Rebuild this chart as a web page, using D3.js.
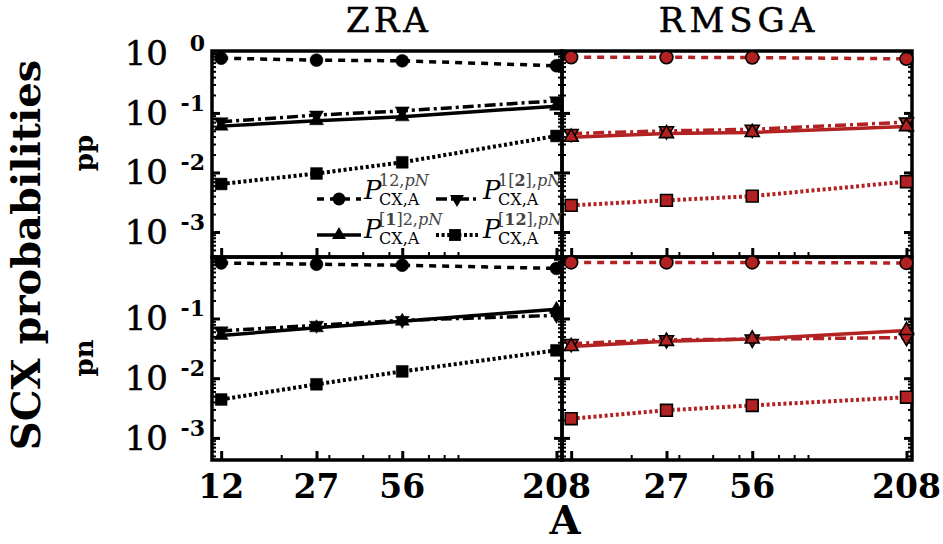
<!DOCTYPE html>
<html><head><meta charset="utf-8">
<script src="https://cdn.jsdelivr.net/npm/d3@7"></script>
<style>body{margin:0;background:#fff} svg{display:block}</style>
</head><body><svg id="c" width="943" height="544"></svg>
<script>
// ---------- data ----------
const massNumbers = [12, 27, 56, 208];
const xLabelsLeft = ["12", "27", "56", "208"];
const xLabelsRight = ["", "27", "56", "208"];
const xMinorTicks = [20, 30, 40, 50, 70, 80, 90];
const yDecadeExps = [0, -1, -2, -3];
const panelTitles = ["ZRA", "RMSGA"];
const rowLabels = ["pp", "pn"];

// ZRA, pp
const zraPP_P12   = [0.83, 0.77, 0.75, 0.62];
const zraPP_P1b2  = [0.071, 0.092, 0.108, 0.16];
const zraPP_Pb12  = [0.060, 0.074, 0.086, 0.13];
const zraPP_Pb12b = [0.0064, 0.0096, 0.0148, 0.041];
// RMSGA, pp
const rmsPP_P12   = [0.86, 0.86, 0.85, 0.81];
const rmsPP_P1b2  = [0.045, 0.050, 0.053, 0.070];
const rmsPP_Pb12  = [0.039, 0.045, 0.047, 0.059];
const rmsPP_Pb12b = [0.0028, 0.0034, 0.0040, 0.0070];
// ZRA, pn
const zraPN_P12   = [0.85, 0.81, 0.78, 0.69];
const zraPN_P1b2  = [0.062, 0.077, 0.093, 0.113];
const zraPN_Pb12  = [0.052, 0.070, 0.090, 0.143];
const zraPN_Pb12b = [0.0044, 0.0079, 0.0130, 0.0293];
// RMSGA, pn
const rmsPN_P12   = [0.87, 0.87, 0.87, 0.85];
const rmsPN_P1b2  = [0.038, 0.044, 0.045, 0.048];
const rmsPN_Pb12  = [0.034, 0.0415, 0.0454, 0.063];
const rmsPN_Pb12b = [0.0021, 0.0029, 0.0035, 0.0048];

// legend label parts (superscripts)
const legendSups = [
  [["12,","n"],["pN","i"]],
  [["1[","n"],["2","b"],["],","n"],["pN","i"]],
  [["[","n"],["1","b"],["]2,","n"],["pN","i"]],
  [["[","n"],["12","b"],["],","n"],["pN","i"]]
];

// ---------- styles ----------
const RED = "#b22222";
const seriesStyles = [
  {sym: d3.symbolCircle,   rot: 0,   size: 130, dash: "7,6",        width: 3.5},
  {sym: d3.symbolTriangle, rot: 180, size: 85,  dash: "11,4,3,4",   width: 3.5},
  {sym: d3.symbolTriangle, rot: 0,   size: 85,  dash: null,         width: 3.5},
  {sym: d3.symbolSquare,   rot: 0,   size: 140, dash: "3,2.6",      width: 4}
];

const panels = [
  {col:0,row:0,color:"#000",series:[zraPP_P12,zraPP_P1b2,zraPP_Pb12,zraPP_Pb12b]},
  {col:1,row:0,color:RED,   series:[rmsPP_P12,rmsPP_P1b2,rmsPP_Pb12,rmsPP_Pb12b]},
  {col:0,row:1,color:"#000",series:[zraPN_P12,zraPN_P1b2,zraPN_Pb12,zraPN_Pb12b]},
  {col:1,row:1,color:RED,   series:[rmsPN_P12,rmsPN_P1b2,rmsPN_Pb12,rmsPN_Pb12b]}
];

// ---------- layout ----------
const colX = [212, 562], panelW = 350;
const rowY = [[51, 257], [257, 460]];
const yDomains = [[Math.pow(10,-3.42), Math.pow(10,0.04)], [Math.pow(10,-3.37), Math.pow(10,0.03)]];
const xDomain = [11.1, 218];
const SERIF = "'DejaVu Serif', 'Liberation Serif', serif";

const svg = d3.select("#c");

const majorsY = yDecadeExps.map(e => Math.pow(10, e));
const minorsY = [];
for (let e = -4; e <= 0; e++) for (let k = 2; k <= 9; k++) minorsY.push(k * Math.pow(10, e));

function styleAxis(g, w) {
  g.select(".domain").remove();
  g.selectAll(".tick line").attr("stroke", "#000").attr("stroke-width", w);
}

const scales = [];
panels.forEach(p => {
  const x0 = colX[p.col], x1 = x0 + panelW;
  const [yt, yb] = rowY[p.row];
  const yDom = yDomains[p.row];
  const x = d3.scaleLog().domain(xDomain).range([x0, x1]);
  const y = d3.scaleLog().domain(yDom).range([yb, yt]);
  scales.push({x, y});
  const g = svg.append("g");
  const minY = minorsY.filter(v => v >= yDom[0] && v <= yDom[1]);

  // y ticks (inward) left & right
  g.append("g").attr("transform", `translate(${x0},0)`)
    .call(d3.axisRight(y).tickValues(majorsY).tickSize(8).tickFormat(""))
    .call(a => styleAxis(a, 3));
  g.append("g").attr("transform", `translate(${x0},0)`)
    .call(d3.axisRight(y).tickValues(minY).tickSize(4).tickFormat(""))
    .call(a => styleAxis(a, 2));
  g.append("g").attr("transform", `translate(${x1},0)`)
    .call(d3.axisLeft(y).tickValues(majorsY).tickSize(8).tickFormat(""))
    .call(a => styleAxis(a, 3));
  g.append("g").attr("transform", `translate(${x1},0)`)
    .call(d3.axisLeft(y).tickValues(minY).tickSize(4).tickFormat(""))
    .call(a => styleAxis(a, 2));
  // x ticks (inward, bottom)
  g.append("g").attr("transform", `translate(0,${yb})`)
    .call(d3.axisTop(x).tickValues(massNumbers).tickSize(9).tickFormat(""))
    .call(a => styleAxis(a, 3));
  g.append("g").attr("transform", `translate(0,${yb})`)
    .call(d3.axisTop(x).tickValues(xMinorTicks).tickSize(5).tickFormat(""))
    .call(a => styleAxis(a, 2));

  // frame
  g.append("rect").attr("x", x0).attr("y", yt).attr("width", panelW).attr("height", yb - yt)
    .attr("fill", "none").attr("stroke", "#000").attr("stroke-width", 3.5);

  // series
  p.series.forEach((vals, si) => {
    const st = seriesStyles[si];
    const pts = massNumbers.map((A, i) => ({A, v: vals[i]}));
    g.append("path").datum(pts)
      .attr("d", d3.line().x(d => x(d.A)).y(d => y(d.v)))
      .attr("fill", "none").attr("stroke", p.color).attr("stroke-width", st.width)
      .attr("stroke-dasharray", st.dash);
  });
  p.series.forEach((vals, si) => {
    const st = seriesStyles[si];
    const pts = massNumbers.map((A, i) => ({A, v: vals[i]}));
    g.selectAll(null).data(pts).join("path")
      .attr("d", d3.symbol().type(st.sym).size(st.size))
      .attr("transform", d => `translate(${x(d.A)},${y(d.v)}) rotate(${st.rot})`)
      .attr("fill", p.color).attr("stroke", "#000").attr("stroke-width", p.color === "#000" ? 0.5 : 1.6);
  });
});

// ---------- y tick labels ----------
[0, 1].forEach(row => {
  const y = scales[row * 2].y;
  yDecadeExps.forEach(e => {
    if (row === 1 && e === 0) return;
    const yy = y(Math.pow(10, e));
    svg.append("text").attr("x", 168).attr("y", yy + 12).attr("text-anchor", "end")
      .attr("font-family", SERIF).attr("font-size", 34)
      .attr("stroke", "#000").attr("stroke-width", 0.5).text("10");
    svg.append("text").attr("x", 205).attr("y", yy - 2).attr("text-anchor", "end")
      .attr("font-family", SERIF).attr("font-weight", "bold").attr("font-size", 22)
      .text(String(e));
  });
});

// ---------- x tick labels ----------
[xLabelsLeft, xLabelsRight].forEach((labs, col) => {
  const x = scales[col].x;
  labs.forEach((t, i) => {
    if (!t) return;
    svg.append("text").attr("x", x(massNumbers[i])).attr("y", 498).attr("text-anchor", "middle")
      .attr("font-family", SERIF).attr("font-weight", "bold").attr("font-size", 33).text(t);
  });
});
svg.append("text").attr("x", 565).attr("y", 534).attr("text-anchor", "middle")
  .attr("font-family", SERIF).attr("font-weight", "bold").attr("font-size", 40).text("A");

// ---------- titles ----------
svg.append("text").attr("x", 389).attr("y", 32).attr("text-anchor", "middle")
  .attr("font-family", SERIF).attr("font-size", 34).attr("letter-spacing", 4)
  .attr("stroke", "#000").attr("stroke-width", 0.5).text(panelTitles[0]);
svg.append("text").attr("x", 739).attr("y", 32).attr("text-anchor", "middle")
  .attr("font-family", SERIF).attr("font-size", 34).attr("letter-spacing", 5)
  .attr("stroke", "#000").attr("stroke-width", 0.5).text(panelTitles[1]);

svg.append("text").attr("transform", "translate(40,255) rotate(-90)").attr("text-anchor", "middle")
  .attr("font-family", SERIF).attr("font-weight", "bold").attr("font-size", 40).text("SCX probabilities");
[153, 358].forEach((cy, i) => {
  svg.append("text").attr("transform", `translate(93,${cy}) rotate(-90)`).attr("text-anchor", "middle")
    .attr("font-family", SERIF).attr("font-weight", "bold").attr("font-size", 26).text(rowLabels[i]);
});

// ---------- legend ----------
const legendPos = [
  {lx0: 317, lx1: 361, mx: 339, tx: 364, by: 199, ly: 199},
  {lx0: 436, lx1: 478, mx: 457, tx: 483, by: 199, ly: 199},
  {lx0: 317, lx1: 361, mx: 339, tx: 364, by: 238, ly: 235},
  {lx0: 436, lx1: 478, mx: 455, tx: 483, by: 238, ly: 235}
];
const lg = svg.append("g");
legendPos.forEach((lp, i) => {
  const st = seriesStyles[i];
  lg.append("line").attr("x1", lp.lx0).attr("x2", lp.lx1).attr("y1", lp.ly).attr("y2", lp.ly)
    .attr("stroke", "#000").attr("stroke-width", st.width).attr("stroke-dasharray", st.dash);
  lg.append("path").attr("d", d3.symbol().type(st.sym).size(st.size))
    .attr("transform", `translate(${lp.mx},${lp.ly}) rotate(${st.rot})`).attr("fill", "#000");
  const t = lg.append("text").attr("x", lp.tx).attr("y", lp.by).attr("font-family", SERIF);
  t.append("tspan").attr("font-style", "italic").attr("font-size", 26).text("P");
  legendSups[i].forEach(([s, k], j) => {
    const ts = t.append("tspan").text(s).attr("font-size", 16).attr("fill", "#444")
      .attr("font-style", k === "i" ? "italic" : "normal")
      .attr("font-weight", k === "b" ? "bold" : "normal");
    if (j === 0) ts.attr("x", lp.tx + 15).attr("dy", -13);
  });
  t.append("tspan").attr("x", lp.tx + 15).attr("dy", 19).attr("font-size", 16).text("CX,A");
});
</script></body></html>
